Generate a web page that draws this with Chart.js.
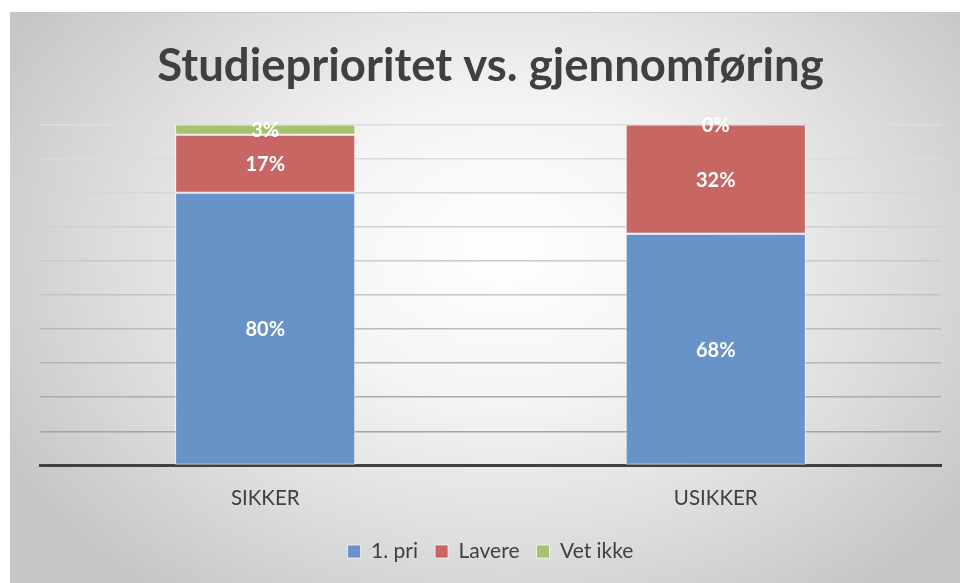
<!DOCTYPE html>
<html>
<head>
<meta charset="utf-8">
<script src="https://cdn.jsdelivr.net/npm/chart.js@4/dist/chart.umd.min.js"></script>
<style>
  body { margin: 0; background: #fff; }
  #wrap {
    position: absolute; left: 10px; top: 12px; width: 950px; height: 571px;
    border-top: 1px solid #c6c6c6;
    background: radial-gradient(ellipse 60% 75% at 52% 42%, #ffffff 0%, #f4f4f4 35%, #dcdcdc 70%, #c6c6c6 100%);
  }
</style>
</head>
<body>
<div id="wrap"><canvas id="chart"></canvas></div>
<script>
var categories = ['SIKKER', 'USIKKER'];
var firstPri = [80, 68];
var lavere = [17, 32];
var vetIkke = [3, 0];

// gridlines get darker towards the bottom, like the original
var gridColors = ['#3f3f3f', '#a4a4a4', '#ababab', '#b3b3b3', '#bbbbbb', '#c3c3c3', '#cacaca', '#d0d0d0', '#d6d6d6', '#dbdbdb', '#dedede'];

var segLabels = {
  id: 'segLabels',
  afterDatasetsDraw: function (chart) {
    var ctx = chart.ctx;
    ctx.save();
    ctx.font = 'bold 20px Lato';
    ctx.fillStyle = '#ffffff';
    ctx.textAlign = 'center';
    ctx.textBaseline = 'middle';
    chart.data.datasets.forEach(function (ds, i) {
      chart.getDatasetMeta(i).data.forEach(function (bar, j) {
        var p = bar.getProps(['x', 'y', 'base'], true);
        ctx.fillText(ds.data[j] + '%', p.x, (p.y + p.base) / 2 + 1);
      });
    });
    ctx.restore();
  }
};

var barStyle = { borderColor: 'rgba(255,255,255,0.7)', borderWidth: 1, borderSkipped: false, barPercentage: 0.4, categoryPercentage: 1 };

new Chart(document.getElementById('chart'), {
  type: 'bar',
  data: {
    labels: categories,
    datasets: [
      Object.assign({ label: '1. pri', data: firstPri, backgroundColor: '#6893c8' }, barStyle),
      Object.assign({ label: 'Lavere', data: lavere, backgroundColor: '#c86664' }, barStyle),
      Object.assign({ label: 'Vet ikke', data: vetIkke, backgroundColor: '#a3c36e' }, barStyle)
    ]
  },
  options: {
    responsive: true,
    maintainAspectRatio: false,
    animation: false,
    layout: { padding: { left: 30, right: 19, top: 0, bottom: 12 } },
    scales: {
      x: {
        stacked: true,
        grid: { display: false },
        border: { display: true, color: '#404040', width: 3 },
        ticks: { color: '#404040', font: { family: 'Lato', size: 20.5 }, padding: 13 }
      },
      y: {
        stacked: true,
        min: 0, max: 100,
        ticks: { stepSize: 10, display: false },
        border: { display: false },
        grid: {
          color: function (c) { return gridColors[c.index]; },
          lineWidth: 1.5,
          drawTicks: false
        }
      }
    },
    plugins: {
      title: {
        display: true,
        text: 'Studieprioritet vs. gjennomføring',
        color: '#404040',
        font: { family: 'Lato', size: 45.5, weight: 'bold' },
        padding: { top: 26, bottom: 31 }
      },
      legend: {
        position: 'bottom',
        labels: { color: '#404040', font: { family: 'Lato', size: 21 }, boxWidth: 13, boxHeight: 13, padding: 17 }
      },
      tooltip: { enabled: false }
    }
  },
  plugins: [segLabels]
});
</script>
</body>
</html>
